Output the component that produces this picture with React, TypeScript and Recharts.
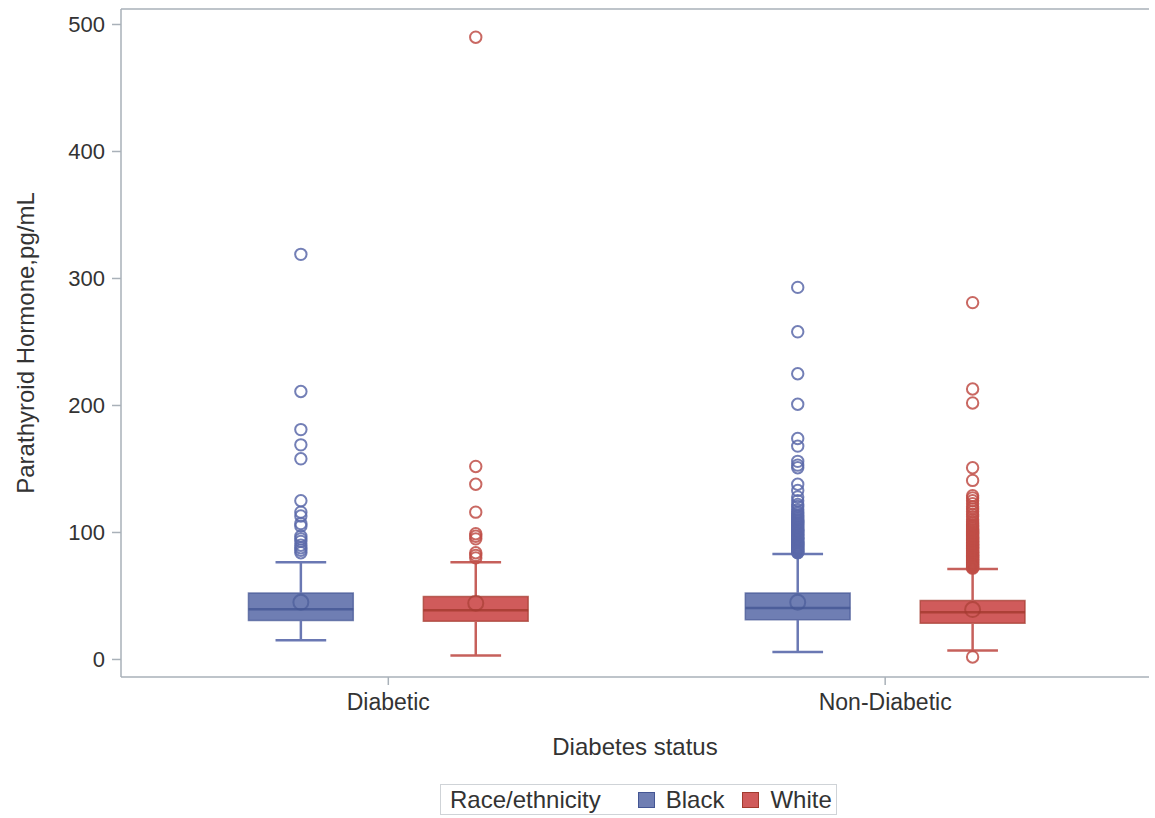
import React from "react"
import {
  ComposedChart,
  XAxis,
  YAxis,
  Scatter,
  ReferenceArea,
  ReferenceLine,
  Legend,
} from "recharts"

// categories and groups
const categories = ["Diabetic", "Non-Diabetic"]
const groups = ["Black", "White"]

// box statistics per category (Diabetic, Non-Diabetic)
const blackMin = [15.2, 5.8]
const blackQ1 = [30.7, 31.2]
const blackMedian = [39.6, 40.6]
const blackQ3 = [52.4, 52.4]
const blackMax = [76.5, 83.1]
const blackMean = [45.0, 45.0]

const whiteMin = [3.1, 7.1]
const whiteQ1 = [30.1, 28.5]
const whiteMedian = [38.8, 37.2]
const whiteQ3 = [49.5, 46.4]
const whiteMax = [76.5, 71.3]
const whiteMean = [44.3, 39.3]

// outliers
const blackDiabeticOutliers = [319, 211, 181, 169, 158, 125, 116, 113, 107, 105, 97, 95, 93, 90, 88, 86, 84]
const whiteDiabeticOutliers = [490, 152, 138, 116, 99, 97, 95, 84, 82, 80]
const blackNonDiabeticOutliers = [
  293, 258, 225, 201, 174, 168, 156, 153, 151, 138, 133, 128, 125, 122, 120.5, 118, 116.2, 115, 113.4, 112.6,
  111.5, 110.6, 109.8, 109, 108.1, 107.3, 106.5, 105.8, 104.7, 103.9, 103.1, 102.2, 101.6, 101, 100.1, 99.2,
  98.6, 98, 97.1, 96.3, 95.7, 95.2, 94.4, 93.8, 93.3, 92.5, 91.9, 91.6, 90.8, 90.2, 89.9, 89.1, 88.6, 88.2,
  87.4, 87, 86.5, 85.7, 85.2, 84.8, 84.3, 84,
]
const whiteNonDiabeticOutliers = [
  281, 213, 202, 151, 141, 129, 127.2, 125, 122.6, 120.3, 118.5, 116.4, 114.2, 112.5, 110.3, 108.6, 107.4,
  106.2, 105.3, 104.5, 103.6, 102.8, 101.9, 101, 100.2, 99.4, 98.7, 97.9, 97.2, 96.6, 95.9, 95.3, 94.7, 94.1,
  93.4, 92.8, 92.2, 91.6, 90.9, 90.3, 89.7, 89.2, 88.6, 88, 87.4, 86.9, 86.3, 85.7, 85.1, 84.6, 84, 83.4,
  82.9, 82.3, 81.7, 81.2, 80.6, 80.1, 79.5, 79, 78.4, 77.9, 77.3, 76.8, 76.2, 75.7, 75.1, 74.6, 74, 73.5,
  72.9, 72.4, 71.9, 2,
]

const yTicks = [0, 100, 200, 300, 400, 500]

const palette = {
  Black: { fill: "#6f7eb3", line: "#445694", whisker: "#6a78b3", ring: "#5a69a9" },
  White: { fill: "#d05b5b", line: "#a23a2e", whisker: "#c6605b", ring: "#bf4d47" },
}

const groupOffset = [-0.176, 0.176]
const boxHalf = 0.1055
const capHalf = 0.051
const xDomain = [-0.538, 1.531]
const yDomain = [-13.8, 512.2]

const font = "'Liberation Sans', Arial, sans-serif"
const frameColor = "#a9b1b9"

const stats = {
  Black: { min: blackMin, q1: blackQ1, med: blackMedian, q3: blackQ3, max: blackMax, mean: blackMean },
  White: { min: whiteMin, q1: whiteQ1, med: whiteMedian, q3: whiteQ3, max: whiteMax, mean: whiteMean },
}

const outliers = {
  Black: [blackDiabeticOutliers, blackNonDiabeticOutliers],
  White: [whiteDiabeticOutliers, whiteNonDiabeticOutliers],
}

const ring = (r: number, color: string, width: number, opacity = 1) => (props: any) => {
  const { cx, cy } = props
  if (cx == null || cy == null) return <g />
  return <circle cx={cx} cy={cy} r={r} fill="none" stroke={color} strokeWidth={width} strokeOpacity={opacity} />
}

function LegendBox() {
  return (
    <div
      style={{
        display: "flex",
        alignItems: "center",
        height: 31,
        border: "1px solid #cfd3d7",
        fontFamily: font,
        fontSize: 24,
        color: "#333",
        paddingLeft: 9,
        boxSizing: "border-box",
      }}
    >
      <span style={{ marginRight: 37 }}>Race/ethnicity</span>
      {groups.map((g) => (
        <span key={g} style={{ display: "flex", alignItems: "center", marginRight: 18 }}>
          <span
            style={{
              width: 17,
              height: 16,
              background: palette[g as keyof typeof palette].fill,
              border: `1px solid ${palette[g as keyof typeof palette].line}`,
              boxSizing: "border-box",
              marginRight: 11,
            }}
          />
          {g}
        </span>
      ))}
    </div>
  )
}

function YTitle(props: any) {
  const { viewBox } = props
  const x = 25
  const y = viewBox.y + viewBox.height / 2
  return (
    <text
      x={x}
      y={y}
      transform={`rotate(-90, ${x}, ${y})`}
      textAnchor="middle"
      dominantBaseline="central"
      fontFamily={font}
      fontSize={24}
      fill="#333"
    >
      Parathyroid Hormone,pg/mL
    </text>
  )
}

export default function App() {
  const boxes: React.ReactNode[] = []
  const points: React.ReactNode[] = []

  groups.forEach((g, gi) => {
    const s = stats[g as keyof typeof stats]
    const c = palette[g as keyof typeof palette]
    categories.forEach((_, ci) => {
      const cx = ci + groupOffset[gi]
      const key = `${g}-${ci}`
      // whiskers and caps
      boxes.push(
        <ReferenceLine key={`${key}-wu`} segment={[{ x: cx, y: s.q3[ci] }, { x: cx, y: s.max[ci] }]} stroke={c.whisker} strokeWidth={2.5} ifOverflow="visible" />,
        <ReferenceLine key={`${key}-wl`} segment={[{ x: cx, y: s.q1[ci] }, { x: cx, y: s.min[ci] }]} stroke={c.whisker} strokeWidth={2.5} ifOverflow="visible" />,
        <ReferenceLine key={`${key}-cu`} segment={[{ x: cx - capHalf, y: s.max[ci] }, { x: cx + capHalf, y: s.max[ci] }]} stroke={c.whisker} strokeWidth={2.5} ifOverflow="visible" />,
        <ReferenceLine key={`${key}-cl`} segment={[{ x: cx - capHalf, y: s.min[ci] }, { x: cx + capHalf, y: s.min[ci] }]} stroke={c.whisker} strokeWidth={2.5} ifOverflow="visible" />,
        <ReferenceArea key={`${key}-box`} x1={cx - boxHalf} x2={cx + boxHalf} y1={s.q1[ci]} y2={s.q3[ci]} fill={c.fill} fillOpacity={1} stroke={c.line} strokeOpacity={0.7} strokeWidth={1.5} ifOverflow="visible" />,
        <ReferenceLine key={`${key}-med`} segment={[{ x: cx - boxHalf, y: s.med[ci] }, { x: cx + boxHalf, y: s.med[ci] }]} stroke={c.line} strokeOpacity={0.8} strokeWidth={2.5} ifOverflow="visible" />
      )
      points.push(
        <Scatter key={`${key}-mean`} data={[{ x: cx, y: s.mean[ci] }]} dataKey="y" shape={ring(7.5, c.line, 2, 0.6)} isAnimationActive={false} />,
        <Scatter
          key={`${key}-out`}
          data={outliers[g as keyof typeof outliers][ci].map((v) => ({ x: cx, y: v }))}
          dataKey="y"
          shape={ring(5.7, c.ring, 2, 0.85)}
          isAnimationActive={false}
        />
      )
    })
  })

  return (
    <div style={{ position: "absolute", left: 0, top: 0, background: "#fff" }}>
      <ComposedChart width={1155} height={818} margin={{ top: 9, right: 6, bottom: 51, left: 0 }}>
        <XAxis
          dataKey="x"
          type="number"
          domain={xDomain}
          ticks={[0, 1]}
          allowDataOverflow
          tickFormatter={(v: number) => categories[v] ?? ""}
          tick={{ fontFamily: font, fontSize: 23, fill: "#333" }}
          tickSize={8}
          tickMargin={9}
          stroke={frameColor}
          strokeWidth={1.5}
          height={90}
          label={{ value: "Diabetes status", position: "insideBottom", offset: 12, fontFamily: font, fontSize: 24, fill: "#333" }}
        />
        <YAxis
          dataKey="y"
          type="number"
          domain={yDomain}
          ticks={yTicks}
          allowDataOverflow
          tick={{ fontFamily: font, fontSize: 22, fill: "#333" }}
          tickSize={9}
          tickMargin={7}
          stroke={frameColor}
          strokeWidth={1.5}
          width={121}
          label={<YTitle />}
        />
        <YAxis yAxisId="right" orientation="right" type="number" domain={yDomain} width={0} tick={false} tickLine={false} stroke={frameColor} strokeWidth={1.5} />
        {/* top edge of the plot frame */}
        <ReferenceLine y={yDomain[1]} stroke={frameColor} strokeWidth={1.5} ifOverflow="visible" />
        {boxes}
        {points}
        <Legend
          layout="horizontal"
          verticalAlign="middle"
          align="center"
          wrapperStyle={{ left: 440, top: 784, width: 397, height: 32 }}
          content={() => <LegendBox />}
        />
      </ComposedChart>
    </div>
  )
}
